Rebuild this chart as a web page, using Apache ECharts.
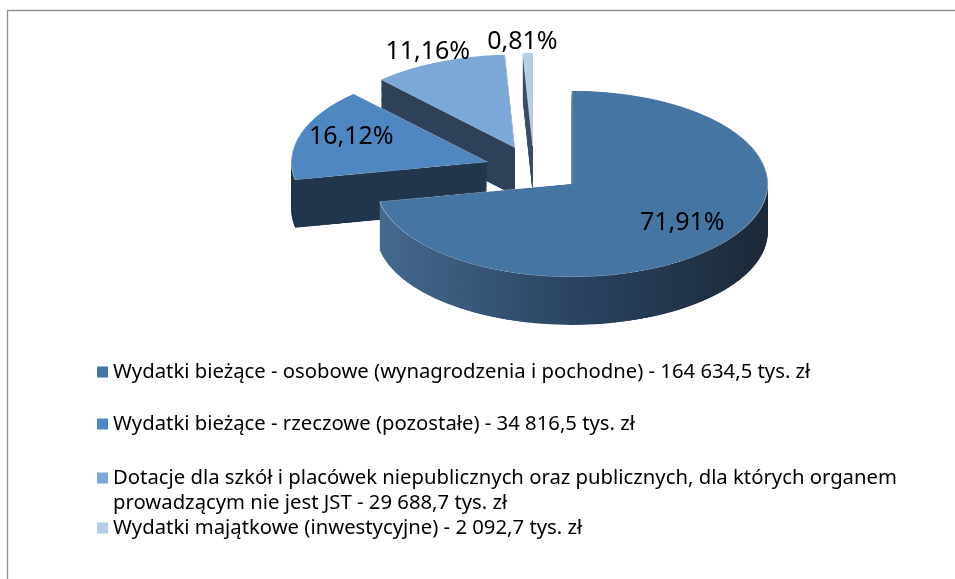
<!DOCTYPE html>
<html><head><meta charset="utf-8">
<script src="https://cdn.jsdelivr.net/npm/echarts@6/dist/echarts.min.js"></script>
<style>
html,body{margin:0;padding:0;background:#fff;overflow:hidden;}
#wrap{position:relative;width:955px;height:579px;overflow:hidden;background:#fff;}
#pie{position:absolute;left:0;top:0;width:955px;transform-origin:0 0;}
#top{position:absolute;left:0;top:0;width:955px;height:579px;}
</style></head><body>
<div id="wrap"><div id="pie"></div><div id="top"></div></div>
<script>
// ---- data ----
const categories = [
  'Wydatki bieżące - osobowe (wynagrodzenia i pochodne)',
  'Wydatki bieżące - rzeczowe (pozostałe)',
  'Dotacje dla szkół i placówek niepublicznych oraz publicznych, dla których organem prowadzącym nie jest JST',
  'Wydatki majątkowe (inwestycyjne)'
];
const amounts = ['164 634,5', '34 816,5', '29 688,7', '2 092,7'];
const shares = [71.91, 16.12, 11.16, 0.81];

// ---- styling / layout ----
const topColors = ['#4575a2', '#4e87c2', '#7ca8d7', '#b6cce7'];
const sideColors = [
  {type:'linear', x:0, y:0, x2:1, y2:0, colorStops:[{offset:0,color:'#46698f'},{offset:0.5,color:'#2a4461'},{offset:1,color:'#1c2938'}]},
  '#22374e', '#2f4159', '#3e5069'
];
const K = 0.475, CX = 534, CY = 169, R = 196, OFF = 49, DEPTH = 48;
const LABEL_CY = 165;
const FONT = 'Noto Sans';

const pieDiv = document.getElementById('pie');
pieDiv.style.height = (579 / K) + 'px';
pieDiv.style.transform = 'scaleY(' + K + ')';

function pieData(colors, border) {
  return shares.map((v, i) => ({
    name: categories[i], value: v, selected: true,
    itemStyle: {color: colors[i], borderWidth: border ? 1 : 0, borderColor: 'rgba(255,255,255,0.45)'}
  }));
}
const layers = [];
for (let d = DEPTH; d >= 0; d--) {
  layers.push({
    type: 'pie', silent: true, animation: false,
    center: [CX, CY / K + d / K], radius: [0, R],
    startAngle: 90, clockwise: true, padAngle: 0, minAngle: 0,
    selectedMode: 'multiple', selectedOffset: OFF,
    label: {show: false}, labelLine: {show: false},
    emphasis: {disabled: true},
    z: 2 + (DEPTH - d),
    data: pieData(d === 0 ? topColors : sideColors, d === 0)
  });
}
const chartA = echarts.init(pieDiv, null, {renderer: 'canvas'});
chartA.setOption({animation: false, series: layers});

const chartB = echarts.init(document.getElementById('top'), null, {renderer: 'canvas'});
const legendTops = [359.5, 411.5, 440.5, 515.5];
chartB.setOption({
  animation: false,
  graphic: [{type: 'rect', silent: true, shape: {x: 7.5, y: 10.5, width: 1200, height: 1200},
    style: {fill: 'transparent', stroke: '#909090', lineWidth: 1.3}}],
  legend: categories.map((c, i) => ({
    orient: 'vertical', left: 97, top: legendTops[i], padding: 0,
    icon: 'rect', itemWidth: 11, itemHeight: 11, itemGap: 10,
    selectedMode: false,
    itemStyle: {opacity: 1, borderWidth: 0},
    data: [{name: c, itemStyle: {color: topColors[i], opacity: 1, borderWidth: 0}}],
    textStyle: {fontFamily: FONT, fontSize: 20.3, color: '#000', lineHeight: 25},
    formatter: function (name) {
      const t = name + ' - ' + amounts[i] + ' tys. zł';
      return i === 2 ? '\n' + t.replace(' organem ', ' organem\n') : t;
    }
  })),
  series: [{
    type: 'pie', silent: true, animation: false,
    center: [CX, LABEL_CY], radius: [133, 245],
    startAngle: 90, clockwise: true, padAngle: 0,
    avoidLabelOverlap: false,
    itemStyle: {color: 'rgba(0,0,0,0)', borderWidth: 0},
    label: {show: true, position: 'inside', fontFamily: FONT, fontSize: 25, color: '#000',
      formatter: p => p.value.toFixed(2).replace('.', ',') + '%'},
    labelLine: {show: false, length: 14, length2: 0},
    labelLayout: function (p) {
      const yc = p.labelRect.y + p.labelRect.height / 2;
      return {dy: (yc - LABEL_CY) * (K - 1), align: 'center'};
    },
    data: shares.map((v, i) => ({
      name: categories[i], value: v,
      label: {position: i >= 2 ? 'outside' : 'inside'}
    }))
  }]
});
</script>
</body></html>
